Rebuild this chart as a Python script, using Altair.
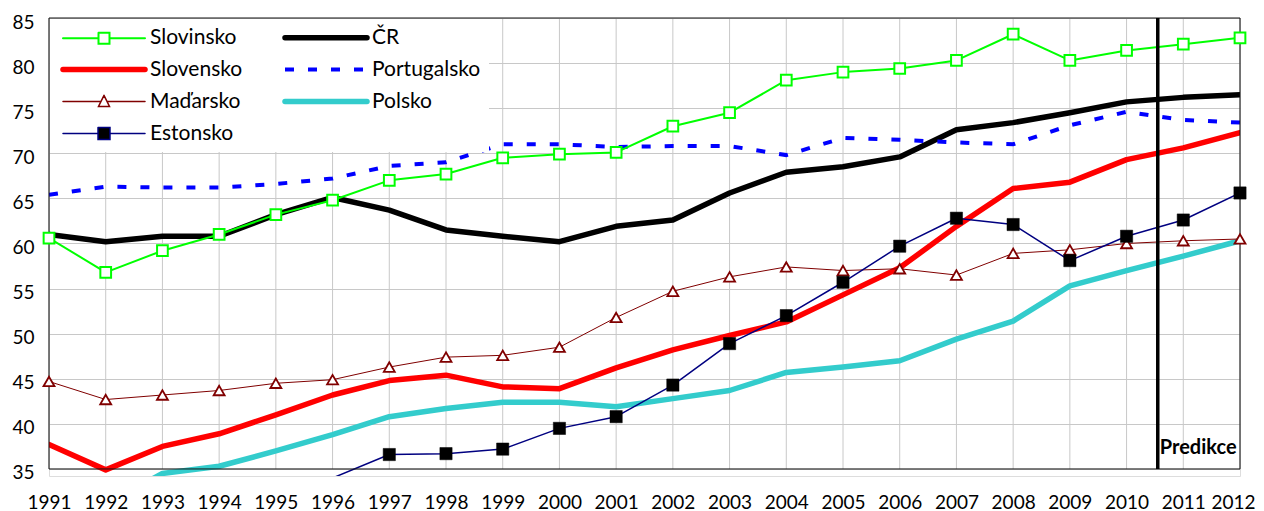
import json
import altair as alt
import pandas as pd

years = list(range(1991, 2013))

# legend order (two columns, filled column by column)
names = ["Slovinsko", "Slovensko", "Maďarsko", "Estonsko", "ČR", "Portugalsko", "Polsko"]
colors = ["#00ff00", "#ff0000", "#800000", "#000080", "#000000", "#0000ff", "#33cccc"]

slovinsko = [60.6, 56.8, 59.2, 61.0, 63.2, 64.8, 67.0, 67.7, 69.5, 69.9, 70.1,
             73.0, 74.5, 78.1, 79.0, 79.4, 80.3, 83.2, 80.3, 81.4, 82.1, 82.8]
cr = [61.0, 60.2, 60.8, 60.8, 63.2, 65.1, 63.7, 61.5, 60.8, 60.2, 61.9,
      62.6, 65.6, 67.9, 68.5, 69.6, 72.6, 73.4, 74.5, 75.7, 76.2, 76.5]
slovensko = [37.7, 34.9, 37.5, 38.9, 41.0, 43.2, 44.8, 45.4, 44.1, 43.9, 46.2,
             48.2, 49.8, 51.3, 54.3, 57.3, 61.9, 66.1, 66.8, 69.3, 70.6, 72.3]
portugalsko = [65.4, 66.3, 66.2, 66.2, 66.6, 67.2, 68.6, 69.0, 71.0, 71.0, 70.7,
               70.8, 70.8, 69.8, 71.7, 71.5, 71.2, 71.0, 73.1, 74.6, 73.7, 73.4]
madarsko = [44.7, 42.7, 43.2, 43.7, 44.5, 44.9, 46.3, 47.4, 47.6, 48.5, 51.8,
            54.7, 56.3, 57.4, 57.0, 57.2, 56.5, 58.9, 59.3, 60.0, 60.3, 60.5]
polsko = [None, 31.1, 34.5, 35.3, 37.0, 38.8, 40.8, 41.7, 42.4, 42.4, 41.9,
          42.8, 43.7, 45.7, 46.3, 47.0, 49.4, 51.4, 55.3, 57.0, 58.6, 60.3]
estonsko = [None, None, None, None, None, 34.0, 36.6, 36.7, 37.2, 39.5, 40.8,
            44.3, 48.9, 52.0, 55.7, 59.7, 62.8, 62.1, 58.1, 60.8, 62.6, 65.6]

series = {"Slovinsko": slovinsko, "ČR": cr, "Slovensko": slovensko,
          "Portugalsko": portugalsko, "Maďarsko": madarsko, "Polsko": polsko,
          "Estonsko": estonsko}

y_ticks = list(range(35, 90, 5))
prediction_year = 2010.55
prediction_label = "Predikce"

rows = []
for n in names:
    for yr, v in zip(years, series[n]):
        if v is not None:
            rows.append({"rok": yr, "hodnota": v, "země": n})
df = pd.DataFrame(rows)

FONT = "Lato"


# ---------- legend symbol styling (per entry) ----------
def pick(mapping, default):
    expr = json.dumps(default, ensure_ascii=False)
    for k, v in reversed(list(mapping.items())):
        expr = f"datum.value === {json.dumps(k, ensure_ascii=False)} ? {json.dumps(v, ensure_ascii=False)} : ({expr})"
    return {"value": {"expr": expr}}


line_path = "M-1,0H1"
leg_shapes = {
    "Slovinsko": "M-1,0H-0.134M0.134,0H1M-0.134,-0.134H0.134V0.134H-0.134Z",
    "Maďarsko": "M-1,0H-0.074M0.074,0H1M0,-0.15L0.134,0.12H-0.134Z",
    "Estonsko": "M-1,0H-0.146M0.146,0H1M-0.146,-0.146H0.146V0.146H-0.146Z",
}
leg_fill = {"Slovinsko": "white", "Maďarsko": "white", "Estonsko": "black"}
leg_width = {"ČR": 5.5, "Slovensko": 5.5, "Polsko": 5.5, "Portugalsko": 4,
             "Slovinsko": 2, "Maďarsko": 1.5, "Estonsko": 1.5}
leg_dash = {"Portugalsko": [9, 14]}
leg_cap = {"Portugalsko": "butt"}

legend = alt.Legend(
    orient="top-left", offset=1, columns=2, columnPadding=31, rowPadding=9,
    padding=8, fillColor="white", title=None,
    labelFont=FONT, labelFontSize=21, labelColor="black", labelOffset=35.5, labelLimit=300,
    symbolSize=6724, symbolStrokeWidth=2, symbolOpacity=1, symbolType="M-1,0H1",
    symbolOffset=35.5,
)
# custom per-entry symbol encoding (Vega-Lite legend "encoding", not in Altair's schema)
legend.encoding = {"symbols": {
    "shape": pick(leg_shapes, line_path),
    "stroke": pick(dict(zip(names, colors)), "black"),
    "fill": pick(leg_fill, "transparent"),
    "strokeWidth": pick(leg_width, 2),
    "strokeDash": pick(leg_dash, [1000, 0]),
    "strokeCap": pick(leg_cap, "round"),
    "opacity": {"value": 1},
}}

_orig_to_dict = alt.LayerChart.to_dict


def _to_dict_noval(self, *args, **kwargs):
    if args:
        args = (False,) + tuple(args[1:])
    else:
        kwargs["validate"] = False
    return _orig_to_dict(self, *args, **kwargs)


alt.LayerChart.to_dict = _to_dict_noval

x_scale = alt.Scale(domain=[1991, 2012], nice=False, zero=False)
y_scale = alt.Scale(domain=[34.22, 85], nice=False, zero=False)
x_axis = alt.Axis(values=years, format="d", title=None, grid=False, domain=False,
                  ticks=False, tickSize=0, labelFlush=False, labelOverlap=False,
                  labelFont=FONT, labelFontSize=19, labelColor="black", labelPadding=17,
                  labelOffset={"expr": "datum.value == 2012 ? -7 : 0"})
y_axis = alt.Axis(values=y_ticks, title=None, grid=True, gridColor="#c8c8c8", gridWidth=1,
                  domain=False, ticks=False, tickSize=0, labelFlush=False, labelOffset=4,
                  labelFont=FONT, labelFontSize=19, labelColor="black", labelPadding=15)


def X(f="rok"):
    return alt.X(f"{f}:Q", scale=x_scale, axis=x_axis)


def Y(f="hodnota"):
    return alt.Y(f"{f}:Q", scale=y_scale, axis=y_axis)


color = alt.Color("země:N", scale=alt.Scale(domain=names, range=colors), sort=names, legend=legend)

# vertical grid lines (only from 35 to 85)
grid_df = pd.DataFrame({"rok": years, "hodnota": 85, "hodnota2": 35})
grid_v = alt.Chart(grid_df).mark_rule(color="#c8c8c8", strokeWidth=1).encode(
    x=X(), y=Y(), y2="hodnota2:Q")

base = alt.Chart(df)

thick = base.transform_filter(
    alt.FieldOneOfPredicate(field="země", oneOf=["ČR", "Slovensko", "Polsko"])
).mark_line(clip=True, strokeWidth=5.5, strokeJoin="round", strokeCap="round").encode(
    x=X(), y=Y(), color=color)

dashed = base.transform_filter(alt.datum["země"] == "Portugalsko").mark_line(
    clip=True, strokeWidth=4, strokeDash=[9, 14], strokeCap="butt").encode(
    x=X(), y=Y(), color=color)

thin_w = {"Slovinsko": 2, "Maďarsko": 1, "Estonsko": 1.5}
thin_layers = []
for n, w in thin_w.items():
    thin_layers.append(
        base.transform_filter(alt.datum["země"] == n).mark_line(
            clip=True, strokeWidth=w, strokeJoin="round").encode(x=X(), y=Y(), color=color))

visible = alt.datum["hodnota"] >= 35
pts_slovinsko = base.transform_filter(alt.datum["země"] == "Slovinsko").transform_filter(visible).mark_point(
    shape="square", filled=True, fill="white", stroke="#00ff00", strokeWidth=2,
    size=115, opacity=1, clip=False).encode(x=X(), y=Y())
pts_madarsko = base.transform_filter(alt.datum["země"] == "Maďarsko").transform_filter(visible).mark_point(
    shape="triangle-up", filled=True, fill="white", stroke="#800000", strokeWidth=1.8,
    size=120, opacity=1, clip=False).encode(x=X(), y=Y())
pts_estonsko = base.transform_filter(alt.datum["země"] == "Estonsko").transform_filter(visible).mark_point(
    shape="square", filled=True, fill="black", stroke="black", strokeWidth=0.5,
    size=150, opacity=1, clip=False).encode(x=X(), y=Y())

frame_df = pd.DataFrame({
    "rok": [1991, 1991, 1991, 2012],
    "rok2": [2012, 2012, 1991, 2012],
    "hodnota": [85, 35, 35, 35],
    "hodnota2": [85, 35, 85, 85],
})
frame = alt.Chart(frame_df).mark_rule(color="#111111", strokeWidth=1).encode(
    x=X(), x2="rok2:Q", y=Y(), y2="hodnota2:Q")

pred_df = pd.DataFrame({"rok": [prediction_year], "hodnota": [85], "hodnota2": [35],
                        "pos": [36.7], "label": [prediction_label]})
pred_line = alt.Chart(pred_df).mark_rule(color="black", strokeWidth=3.5).encode(
    x=X(), y=Y(), y2="hodnota2:Q")
pred_text = alt.Chart(pred_df).mark_text(
    align="left", baseline="alphabetic", dx=2, font=FONT, fontSize=20,
    fontWeight="bold", color="black").encode(x=X(), y=Y("pos"), text="label:N")

chart = alt.layer(
    grid_v, thick, dashed, *thin_layers, frame, pts_slovinsko, pts_madarsko, pts_estonsko,
    pred_line, pred_text
).properties(
    width=1191, height=458,
    autosize=alt.AutoSizeParams(type="none"),
    padding={"left": 41, "top": 10, "right": 16, "bottom": 40},
).configure_view(stroke=None).configure(background="white")

chart.save("out.html", embed_options={"renderer": "svg", "actions": False})
